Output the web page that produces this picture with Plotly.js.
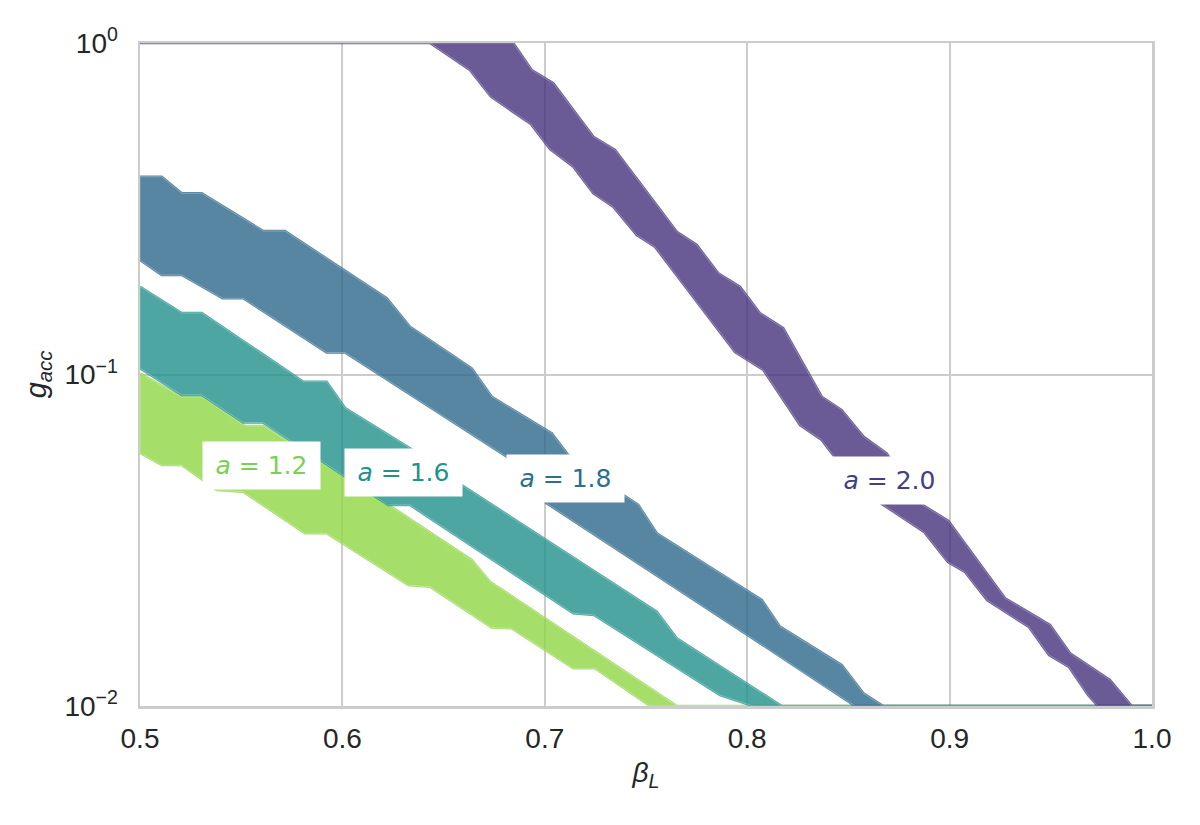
<!DOCTYPE html>
<html>
<head>
<meta charset="utf-8">
<script src="https://cdn.plot.ly/plotly-3.0.1.min.js"></script>
<style>
  html, body { margin: 0; padding: 0; background: #ffffff; }
  #chart { width: 1200px; height: 825px; }
</style>
</head>
<body>
<div id="chart"></div>
<script>
// Acceptance bands g_acc(beta_L) for several values of a.
// Each band is bounded by an upper and a lower contour (beta_L, g_acc).

// a = 1.2
const upperBeta12 = [0.5, 0.5206, 0.5305, 0.5519, 0.5609, 0.6251, 0.6639, 0.6729, 0.7652];
const upperG12    = [0.1008, 0.0855, 0.0855, 0.0699, 0.0699, 0.03957, 0.02756, 0.02371, 0.01];
const lowerBeta12 = [0.5, 0.5107, 0.5206, 0.5379, 0.5510, 0.5815, 0.5922, 0.6326, 0.6433, 0.6738, 0.6836, 0.7141, 0.7248, 0.7520];
const lowerG12    = [0.0580, 0.0533, 0.0533, 0.04484, 0.04431, 0.03319, 0.03319, 0.02317, 0.02290, 0.01725, 0.01716, 0.01299, 0.01299, 0.01];

// a = 1.6
const upperBeta16 = [0.5, 0.5206, 0.5305, 0.5807, 0.5922, 0.6013, 0.6334, 0.6589, 0.7553, 0.7652, 0.8170];
const upperG16    = [0.1840, 0.1533, 0.1533, 0.0951, 0.0951, 0.0792, 0.0599, 0.0464, 0.01925, 0.0160, 0.01];
const lowerBeta16 = [0.5, 0.5206, 0.5305, 0.5510, 0.5609, 0.6227, 0.6334, 0.7141, 0.7243, 0.7866, 0.8029];
const lowerG16    = [0.1044, 0.0868, 0.0868, 0.0716, 0.0716, 0.0404, 0.0404, 0.01904, 0.01882, 0.01079, 0.01];

// a = 1.8
const upperBeta18 = [0.5, 0.5107, 0.5206, 0.5305, 0.5609, 0.5716, 0.6219, 0.6334, 0.6639, 0.6738, 0.7034, 0.7116, 0.7388, 0.7462, 0.7553, 0.8072, 0.8162, 0.8467, 0.8574, 0.8672];
const upperG18    = [0.3951, 0.3951, 0.3520, 0.3520, 0.2709, 0.2709, 0.1698, 0.1394, 0.1044, 0.0857, 0.06647, 0.05718, 0.0433, 0.0404, 0.03319, 0.02088, 0.01735, 0.01329, 0.01092, 0.01];
const lowerBeta18 = [0.5, 0.5107, 0.5206, 0.5408, 0.5510, 0.5922, 0.6013, 0.6812, 0.7009, 0.8014, 0.8533];
const lowerG18    = [0.2215, 0.1996, 0.1996, 0.1698, 0.1698, 0.1165, 0.1165, 0.05649, 0.04088, 0.01618, 0.01];

// a = 2.0
const upperBeta20 = [0.6844, 0.6935, 0.7042, 0.7240, 0.7347, 0.7652, 0.7751, 0.7857, 0.7964, 0.8063, 0.8178, 0.8368, 0.8467, 0.8574, 0.8689, 0.8854, 0.8994, 0.9274, 0.9496, 0.9595, 0.9792, 0.9900];
const upperG20    = [1.0, 0.8290, 0.7558, 0.5216, 0.4756, 0.2696, 0.2458, 0.2019, 0.1840, 0.1530, 0.1379, 0.0857, 0.0781, 0.06495, 0.05786, 0.04088, 0.03614, 0.02113, 0.01755, 0.01442, 0.01198, 0.01];
const lowerBeta20 = [0.6433, 0.6630, 0.6734, 0.6931, 0.7026, 0.7141, 0.7240, 0.7338, 0.7454, 0.7544, 0.7940, 0.8080, 0.8261, 0.8368, 0.8488, 0.8665, 0.8874, 0.8992, 0.9076, 0.9185, 0.9392, 0.9491, 0.9590, 0.9684, 0.9733];
const lowerG20    = [1.0, 0.8290, 0.6887, 0.5697, 0.4789, 0.4235, 0.3520, 0.3208, 0.2635, 0.2429, 0.1169, 0.1032, 0.0704, 0.06347, 0.0508, 0.04069, 0.03349, 0.02718, 0.02536, 0.02088, 0.01731, 0.01425, 0.01311, 0.01079, 0.01];

// Labels placed on each band
const labelTexts = ['<i>a</i> = 1.2', '<i>a</i> = 1.6', '<i>a</i> = 1.8', '<i>a</i> = 2.0'];
const labelBeta  = [0.5600, 0.6302, 0.7102, 0.8701];
const labelG     = [0.0533, 0.0505, 0.0484, 0.0480];

const bandColors  = ['#8fd744', '#21918c', '#2e688c', '#46337e'];
const labelColors = ['#7ad151', '#21918c', '#2c6e8e', '#433e85'];

// Outline of a band: along the upper contour, along the bottom of the
// domain to beta_L = 1, then back along the lower contour.
function bandPolygon(ub, ug, lb, lg, startAtTop) {
  const xs = [], ys = [];
  if (startAtTop) { xs.push(0.5); ys.push(1.0); }
  for (let i = 0; i < ub.length; i++) { xs.push(ub[i]); ys.push(ug[i]); }
  xs.push(1.0); ys.push(0.01);
  for (let i = lb.length - 1; i >= 0; i--) { xs.push(lb[i]); ys.push(lg[i]); }
  if (startAtTop) { xs.push(0.5); ys.push(1.0); }
  else { xs.push(ub[0]); ys.push(ug[0]); }
  return { x: xs, y: ys };
}

const bands = [
  bandPolygon(upperBeta12, upperG12, lowerBeta12, lowerG12, false),
  bandPolygon(upperBeta16, upperG16, lowerBeta16, lowerG16, false),
  bandPolygon(upperBeta18, upperG18, lowerBeta18, lowerG18, false),
  bandPolygon(upperBeta20, upperG20, lowerBeta20, lowerG20, true)
];

const traces = [];
bands.forEach((b, i) => {
  traces.push({
    type: 'scatter', mode: 'lines', x: b.x, y: b.y,
    fill: 'toself', fillcolor: bandColors[i],
    line: { color: bandColors[i], width: 2.5 },
    opacity: 0.8, hoverinfo: 'skip', showlegend: false
  });
  traces.push({
    type: 'scatter', mode: 'lines', x: b.x, y: b.y,
    line: { color: 'rgba(255,255,255,0.35)', width: 0.8 },
    hoverinfo: 'skip', showlegend: false
  });
});

const annotations = labelTexts.map((t, i) => ({
  x: labelBeta[i], y: Math.log10(labelG[i]), xref: 'x', yref: 'y',
  text: t, showarrow: false,
  font: { family: 'DejaVu Sans', size: 25, color: labelColors[i] },
  bgcolor: '#ffffff', borderpad: 8, width: 101, height: 31,
  xanchor: 'center', yanchor: 'middle'
}));

const layout = {
  width: 1200, height: 825,
  margin: { l: 140, r: 48, t: 43, b: 119 },
  paper_bgcolor: '#ffffff', plot_bgcolor: '#ffffff',
  font: { family: 'Liberation Sans, Arial, sans-serif', color: '#262626' },
  xaxis: {
    range: [0.5, 1.0],
    tickvals: [0.5, 0.6, 0.7, 0.8, 0.9, 1.0],
    ticktext: ['0.5', '0.6', '0.7', '0.8', '0.9', '1.0'],
    tickfont: { size: 28, color: '#262626' },
    ticks: '', ticklabelstandoff: 6,
    showgrid: true, gridcolor: '#cccccc', gridwidth: 2,
    zeroline: false, showline: true, mirror: true,
    linecolor: '#cccccc', linewidth: 2.5, layer: 'below traces',
    title: { text: '<i>β</i><sub><i>L</i></sub>', font: { size: 28, color: '#262626' }, standoff: 10 }
  },
  yaxis: {
    type: 'log', range: [-2, 0],
    tickvals: [0.01, 0.1, 1],
    ticktext: ['10<sup>−2</sup>', '10<sup>−1</sup>', '10<sup>0</sup>'],
    tickfont: { size: 28, color: '#262626' },
    ticks: '', ticklabelstandoff: 14,
    showgrid: true, gridcolor: '#cccccc', gridwidth: 2,
    zeroline: false, showline: true, mirror: true,
    linecolor: '#cccccc', linewidth: 2.5, layer: 'below traces',
    title: { text: '<i>g</i><sub><i>acc</i></sub>', font: { size: 29, color: '#262626' }, standoff: 10 }
  },
  annotations: annotations,
  showlegend: false
};

Plotly.newPlot('chart', traces, layout, { displayModeBar: false, staticPlot: true });
</script>
</body>
</html>
